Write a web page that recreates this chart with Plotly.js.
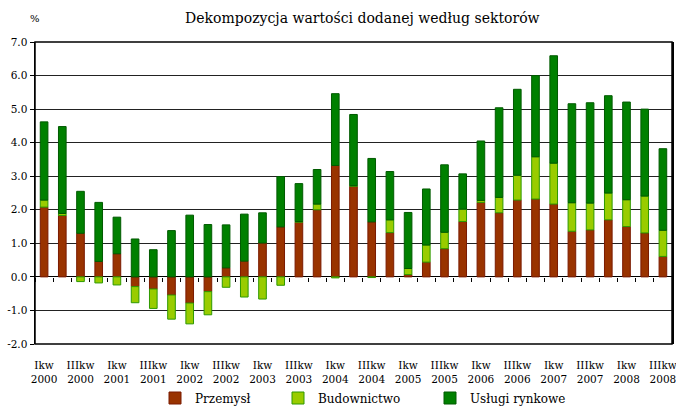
<!DOCTYPE html>
<html>
<head>
<meta charset="utf-8">
<script src="https://cdn.plot.ly/plotly-3.0.1.min.js"></script>
<style>html,body{margin:0;padding:0;background:#fff;}#chart{width:676px;height:410px;}</style>
</head>
<body>
<div id="chart"></div>
<script>
const quarters = ["Ikw 2000","IIkw 2000","IIIkw 2000","IVkw 2000","Ikw 2001","IIkw 2001","IIIkw 2001","IVkw 2001",
  "Ikw 2002","IIkw 2002","IIIkw 2002","IVkw 2002","Ikw 2003","IIkw 2003","IIIkw 2003","IVkw 2003",
  "Ikw 2004","IIkw 2004","IIIkw 2004","IVkw 2004","Ikw 2005","IIkw 2005","IIIkw 2005","IVkw 2005",
  "Ikw 2006","IIkw 2006","IIIkw 2006","IVkw 2006","Ikw 2007","IIkw 2007","IIIkw 2007","IVkw 2007",
  "Ikw 2008","IIkw 2008","IIIkw 2008"];
const przemysl = [2.08,1.83,1.30,0.46,0.69,-0.29,-0.36,-0.54,-0.78,-0.44,0.27,0.47,1.01,1.49,1.63,2.00,
  3.32,2.70,1.64,1.32,0.07,0.44,0.84,1.65,2.22,1.91,2.29,2.32,2.17,1.36,1.40,1.70,1.50,1.31,0.61];
const budownictwo = [0.21,0.06,-0.14,-0.18,-0.24,-0.48,-0.58,-0.72,-0.62,-0.69,-0.31,-0.60,-0.66,-0.25,0.02,0.17,
  -0.03,0.02,-0.02,0.38,0.18,0.51,0.49,0.37,0.06,0.46,0.74,1.26,1.22,0.85,0.80,0.80,0.80,1.10,0.78];
const uslugi = [2.33,2.59,1.25,1.76,1.09,1.13,0.81,1.38,1.84,1.56,1.28,1.40,0.90,1.50,1.13,1.03,
  2.14,2.12,1.89,1.44,1.67,1.67,2.01,1.05,1.77,2.67,2.56,2.42,3.20,2.95,2.99,2.90,2.91,2.59,2.43];
const seriesNames = ["Przemysł","Budownictwo","Usługi rynkowe"];
const yTicks = [-2,-1,0,1,2,3,4,5,6,7];

const idx = quarters.map((q,i)=>i);
const labelIdx = idx.filter(i=>i%2===0);
const labelText = labelIdx.map(i=>quarters[i].replace(" ","<br>"));

const serif = "DejaVu Serif, Liberation Serif, serif";

function bar(name, vals, fill, edge, legendId){
  return {type:"bar", name:name, x:idx, y:vals, legend:legendId,
    marker:{color:fill, line:{color:edge, width:1}}, hoverinfo:"y+name"};
}
const data = [
  bar(seriesNames[0], przemysl, "#993300", "#7a1a00", "legend"),
  bar(seriesNames[1], budownictwo, "#99cc00", "#2e9900", "legend2"),
  bar(seriesNames[2], uslugi, "#008000", "#005a00", "legend3")
];

const legBase = {orientation:"h", xref:"container", yref:"container", y:1-398/410, yanchor:"middle", xanchor:"left",
  font:{family:serif, size:12, color:"#000"}, bgcolor:"rgba(0,0,0,0)", itemwidth:30};

const layout = {
  width:676, height:410,
  margin:{l:35, r:4, t:42, b:66},
  paper_bgcolor:"#fff", plot_bgcolor:"#fff",
  barmode:"relative", bargap:0.58,
  font:{family:serif, size:11, color:"#000"},
  title:{text:"Dekompozycja wartości dodanej według sektorów", font:{family:serif, size:14, color:"#000"},
    xref:"container", yref:"container", x:0.536, xanchor:"center", y:0.956, yanchor:"middle"},
  xaxis:{range:[-0.5,34.5], anchor:"free", position:2/9, showgrid:false, zeroline:false, showline:false, automargin:false,
    tickmode:"array", tickvals:labelIdx, ticktext:labelText, ticks:"outside", ticklen:4, tickcolor:"rgba(0,0,0,0)",
    ticklabelstandoff:75, ticklabeloverflow:"allow",
    tickfont:{family:serif, size:10.5, color:"#000"},
    minor:{tickmode:"linear", tick0:-0.5, dtick:1, ticks:"outside", ticklen:4, tickcolor:"#000", tickwidth:1, showgrid:false}},
  yaxis:{range:[-2,7], tickmode:"array", tickvals:yTicks, ticktext:yTicks.map(v=>v.toFixed(1)), automargin:false,
    ticks:"outside", ticklen:4, tickcolor:"#000", showgrid:true, gridcolor:"#222", gridwidth:1,
    zeroline:true, zerolinecolor:"#000", zerolinewidth:1, showline:true, linecolor:"#000", linewidth:1.5, mirror:true,
    tickfont:{family:serif, size:10.5, color:"#000"}},
  shapes:[{type:"rect", xref:"paper", yref:"paper", x0:0, x1:1, y0:0, y1:1, line:{color:"#000", width:1.5}, layer:"above"}],
  annotations:[{text:"%", xref:"paper", yref:"paper", x:0.0, y:1.0, yshift:24, xanchor:"center", yanchor:"middle",
    showarrow:false, font:{family:serif, size:10, color:"#000"}}],
  legend:Object.assign({}, legBase, {x:155/676}),
  legend2:Object.assign({}, legBase, {x:278/676}),
  legend3:Object.assign({}, legBase, {x:430/676}),
  showlegend:true
};
Plotly.newPlot("chart", data, layout, {displayModeBar:false, staticPlot:true});
</script>
</body>
</html>
